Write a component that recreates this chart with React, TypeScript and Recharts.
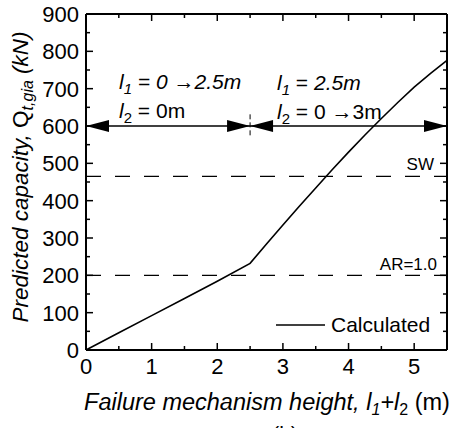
import React from 'react';
import { LineChart, Line, XAxis, YAxis, ReferenceLine, ReferenceDot } from 'recharts';

// ---- data ----
const heights = [0, 0.5, 1, 1.5, 2, 2.5, 2.75, 3, 3.25, 3.5, 3.75, 4, 4.25, 4.5, 4.75, 5, 5.25, 5.5];
const capacity = [0, 46, 92, 138, 184, 232, 284, 335, 385, 434, 483, 530, 576, 620, 663, 704, 741, 776];
const xTicks = [0, 0.5, 1, 1.5, 2, 2.5, 3, 3.5, 4, 4.5, 5];
const yTicks = [0, 50, 100, 150, 200, 250, 300, 350, 400, 450, 500, 550, 600, 650, 700, 750, 800, 850, 900];
const swLevel = 465;
const arLevel = 200;
const arrowLevel = 600;
const phaseBreak = 2.5;
const xMax = 5.5;
const yMax = 900;

const data = heights.map((h, i) => ({ h, q: capacity[i] }));

const FONT = '"Liberation Sans", Arial, Helvetica, sans-serif';
const AXIS_LINE = { stroke: '#000', strokeWidth: 2 };
const MAJOR = 7;
const MINOR = 4;
const isXMajor = (v: number) => Math.abs(v - Math.round(v)) < 1e-6;
const isYMajor = (v: number) => v % 100 === 0;

const BottomTick = (p: any) => {
  const v = p.payload.value;
  const major = isXMajor(v);
  return (
    <g>
      <line x1={p.x} y1={p.y} x2={p.x} y2={p.y - (major ? MAJOR : MINOR)} stroke="#000" strokeWidth={1.5} />
      {major && (
        <text x={p.x} y={p.y + 24} textAnchor="middle" fontSize={22} fontFamily={FONT} fill="#000">
          {v}
        </text>
      )}
    </g>
  );
};
const TopTick = (p: any) => {
  const major = isXMajor(p.payload.value);
  return <line x1={p.x} y1={p.y} x2={p.x} y2={p.y + (major ? MAJOR : MINOR)} stroke="#000" strokeWidth={1.5} />;
};
const LeftTick = (p: any) => {
  const v = p.payload.value;
  const major = isYMajor(v);
  return (
    <g>
      <line x1={p.x} y1={p.y} x2={p.x + (major ? MAJOR : MINOR)} y2={p.y} stroke="#000" strokeWidth={1.5} />
      {major && (
        <text x={p.x - 7} y={p.y + 8} textAnchor="end" fontSize={22} fontFamily={FONT} fill="#000">
          {v}
        </text>
      )}
    </g>
  );
};
const RightTick = (p: any) => {
  const major = isYMajor(p.payload.value);
  return <line x1={p.x} y1={p.y} x2={p.x - (major ? MAJOR : MINOR)} y2={p.y} stroke="#000" strokeWidth={1.5} />;
};

const arrowLeft = (p: any) => (
  <polygon points={`${p.cx},${p.cy} ${p.cx + 23},${p.cy - 6} ${p.cx + 23},${p.cy + 6}`} fill="#000" />
);
const arrowRight = (p: any) => (
  <polygon points={`${p.cx},${p.cy} ${p.cx - 23},${p.cy - 6} ${p.cx - 23},${p.cy + 6}`} fill="#000" />
);

const SUB = 15;

export default function App() {
  return (
    <div style={{ position: 'absolute', left: 0, top: 0, width: 453, height: 428, overflow: 'hidden', background: '#fff' }}>
      <LineChart width={453} height={428} data={data} margin={{ top: 13, right: 5, bottom: 0, left: 0 }}>
        <XAxis dataKey="h" type="number" domain={[0, xMax]} ticks={xTicks} interval={0} height={78}
          tickSize={0} tickMargin={0} tickLine={false} axisLine={AXIS_LINE} tick={BottomTick} />
        <XAxis xAxisId="top" dataKey="h" orientation="top" type="number" domain={[0, xMax]} ticks={xTicks} interval={0} height={1}
          tickSize={0} tickMargin={0} tickLine={false} axisLine={AXIS_LINE} tick={TopTick} />
        <YAxis type="number" domain={[0, yMax]} ticks={yTicks} interval={0} width={86}
          tickSize={0} tickMargin={0} tickLine={false} axisLine={AXIS_LINE} tick={LeftTick} />
        <YAxis yAxisId="right" orientation="right" type="number" domain={[0, yMax]} ticks={yTicks} interval={0} width={1}
          tickSize={0} tickMargin={0} tickLine={false} axisLine={AXIS_LINE} tick={RightTick} />

        {/* invisible series so the mirror axes get scales */}
        <Line xAxisId="top" yAxisId="right" dataKey="q" stroke="none" strokeWidth={0} dot={false} activeDot={false} isAnimationActive={false} />

        <ReferenceLine y={swLevel} stroke="#000" strokeWidth={1.3} strokeDasharray="15 14" ifOverflow="visible" />
        <ReferenceLine y={arLevel} stroke="#000" strokeWidth={1.3} strokeDasharray="15 14" ifOverflow="visible" />
        <ReferenceLine segment={[{ x: 0, y: arrowLevel }, { x: xMax, y: arrowLevel }]} stroke="#000" strokeWidth={1.5} ifOverflow="visible" />
        <ReferenceLine segment={[{ x: phaseBreak, y: arrowLevel - 25 }, { x: phaseBreak, y: arrowLevel + 36 }]}
          stroke="#000" strokeWidth={1} strokeDasharray="5 3" ifOverflow="visible" />
        <ReferenceDot x={0} y={arrowLevel} r={0} shape={arrowLeft} ifOverflow="visible" />
        <ReferenceDot x={phaseBreak} y={arrowLevel} r={0} shape={arrowRight} ifOverflow="visible" />
        <ReferenceDot x={phaseBreak} y={arrowLevel} r={0} shape={arrowLeft} ifOverflow="visible" />
        <ReferenceDot x={xMax} y={arrowLevel} r={0} shape={arrowRight} ifOverflow="visible" />
        <Line dataKey="q" type="linear" stroke="#000" strokeWidth={1.6} dot={false} isAnimationActive={false} />
      </LineChart>
      <svg
        width={453}
        height={450}
        style={{ position: 'absolute', left: 0, top: 0, pointerEvents: 'none' }}
        fontFamily={FONT}
        fill="#000"
      >
        <text x={119} y={89} fontSize={21}>
          <tspan fontStyle="italic">l</tspan>
          <tspan dy={5} fontSize={SUB} fontStyle="italic">1</tspan>
          <tspan dy={-5} fontStyle="italic"> = 0 →2.5m</tspan>
        </text>
        <text x={119} y={118} fontSize={21}>
          <tspan fontStyle="italic">l</tspan>
          <tspan dy={5} fontSize={SUB}>2</tspan>
          <tspan dy={-5}> = 0m</tspan>
        </text>
        <text x={277} y={90} fontSize={21}>
          <tspan fontStyle="italic">l</tspan>
          <tspan dy={5} fontSize={SUB} fontStyle="italic">1</tspan>
          <tspan dy={-5}> = </tspan>
          <tspan fontStyle="italic">2.5m</tspan>
        </text>
        <text x={277} y={119} fontSize={21}>
          <tspan fontStyle="italic">l</tspan>
          <tspan dy={5} fontSize={SUB}>2</tspan>
          <tspan dy={-5}> = 0 →3m</tspan>
        </text>
        <text x={434} y={170} fontSize={17} textAnchor="end">SW</text>
        <text x={437} y={270} fontSize={17} textAnchor="end">AR=1.0</text>
        <line x1={276} y1={325} x2={325} y2={325} stroke="#000" strokeWidth={1.6} />
        <text x={331} y={332} fontSize={21}>Calculated</text>
        <text x={267} y={410} fontSize={23.5} textAnchor="middle">
          <tspan fontStyle="italic">Failure mechanism height, l</tspan>
          <tspan dy={5} fontSize={16} fontStyle="italic">1</tspan>
          <tspan dy={-5} fontStyle="italic">+l</tspan>
          <tspan dy={5} fontSize={16}>2</tspan>
          <tspan dy={-5}> (m)</tspan>
        </text>
        <text transform="translate(28,177) rotate(-90)" fontSize={22.5} textAnchor="middle">
          <tspan fontStyle="italic">Predicted capacity, </tspan>
          <tspan>Q</tspan>
          <tspan dy={5} fontSize={16} fontStyle="italic">t,gia</tspan>
          <tspan dy={-5} fontStyle="italic"> (kN)</tspan>
        </text>
        <text x={285} y={441} fontSize={21} textAnchor="middle">(b)</text>
      </svg>
    </div>
  );
}
